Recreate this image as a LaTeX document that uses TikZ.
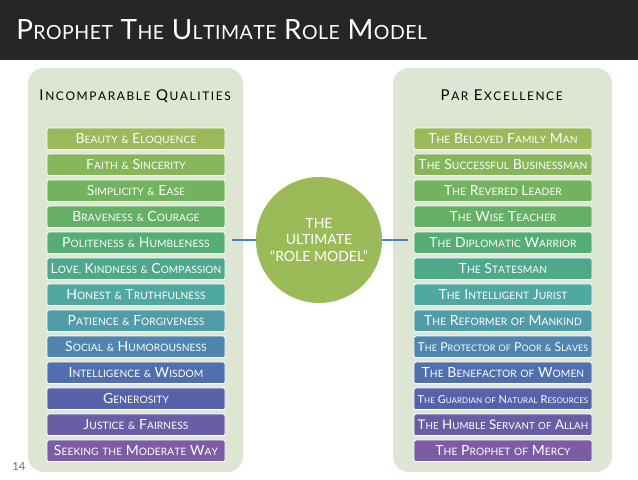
\documentclass[tikz,border=0pt]{standalone}
\usepackage{fontspec}
\setmainfont{Lato}
\usepackage{graphicx}
\usepackage{xcolor}
\usepackage{tikz}
\usetikzlibrary{positioning}

\definecolor{titlebar}{RGB}{38,38,38}
\definecolor{panelbg}{RGB}{221,230,211}
\definecolor{linkblue}{RGB}{79,129,189}
\definecolor{modelgreen}{RGB}{155,187,89}
\definecolor{pagegray}{RGB}{110,110,110}
\definecolor{c1}{RGB}{155,184,90}
\definecolor{c2}{RGB}{134,182,90}
\definecolor{c3}{RGB}{114,180,94}
\definecolor{c4}{RGB}{100,176,100}
\definecolor{c5}{RGB}{85,172,116}
\definecolor{c6}{RGB}{78,169,138}
\definecolor{c7}{RGB}{79,169,160}
\definecolor{c8}{RGB}{80,157,169}
\definecolor{c9}{RGB}{79,133,174}
\definecolor{c10}{RGB}{81,111,174}
\definecolor{c11}{RGB}{87,97,169}
\definecolor{c12}{RGB}{107,93,165}
\definecolor{c13}{RGB}{124,92,165}

% fake small caps
\newdimen\fsctrack
\newcommand\fscratio{0.73}
\ExplSyntaxOn
\cs_new_protected:Npn \fsc_word:n #1
  {
    \tl_map_inline:nn {#1}
      {
        \bool_lazy_and:nnTF
          { \int_compare_p:nNn { `##1 } > { 64 } }
          { \int_compare_p:nNn { `##1 } < { 91 } }
          { ##1 }
          { \scalebox{\fscratio}{\text_uppercase:n {##1}} }
        \kern\fsctrack
      }
  }
\NewDocumentCommand \fsc { m }
  {
    \seq_set_split:Nnn \l_tmpa_seq { ~ } {#1}
    \seq_map_indexed_inline:Nn \l_tmpa_seq
      { \int_compare:nNnT {##1} > {1} { ~ } \fsc_word:n {##2} }
  }
\ExplSyntaxOff

% shrink a label that is too wide for its bar
\newsavebox\lblbox
\newcommand\fitlbl[1]{\sbox\lblbox{#1}\ifdim\wd\lblbox>128pt\resizebox{128pt}{!}{\usebox\lblbox}\else\usebox\lblbox\fi}

\tikzset{
  panel/.style={rectangle, rounded corners=12pt, fill=panelbg, inner sep=0pt},
  heading/.style={anchor=base, inner sep=0pt, text=black, font={\fontsize{11.2}{13}\selectfont\fsctrack=1.2pt\def\fscratio{0.8}}},
  bar/.style={rectangle, rounded corners=1.5pt, draw=white, line width=0.6pt, outer sep=0pt, inner sep=0pt, minimum width=133.5pt, minimum height=16.2pt, text height=7.5pt, text depth=0pt, text=white, font={\fontsize{10.5}{12}\selectfont\fsctrack=0.05pt}},
  model/.style={circle, fill=modelgreen, minimum size=94.5pt, inner sep=0pt, align=center, text=white, font=\fontsize{10.5}{12.4}\selectfont},
  link/.style={draw=linkblue, line width=0.8pt},
}

\begin{document}
\begin{tikzpicture}[x=0.75pt, y=-0.75pt, node distance=3.3pt]
\useasboundingbox (0,0) rectangle (638,479);
\fill[white] (0,0) rectangle (638,479);
\fill[titlebar] (0,0) rectangle (638,60);
\node[anchor=base west, inner sep=0pt, text=white, font={\fontsize{20.9}{24}\selectfont\fsctrack=0.35pt\def\fscratio{0.7}}] (title) at (16,39) {\fsc{Prophet The Ultimate Role Model}};

\node[panel, minimum width=161.25pt, minimum height=303pt] (qualpanel) at (135.5,270) {};
\node[panel, minimum width=164.25pt, minimum height=303pt] (excpanel) at (502.5,270) {};
\node[heading] (qualhead) at (136,100.7) {\fsc{Incomparable Qualities}};
\node[heading] (exchead) at (502.5,100.7) {\fsc{Par Excellence}};

% left column
\node[bar, fill=c1] (beauty) at (136,138.8) {\fitlbl{\fsc{Beauty \& Eloquence}}};
\node[bar, fill=c2, below=of beauty] (faith) {\fitlbl{\fsc{Faith \& Sincerity}}};
\node[bar, fill=c3, below=of faith] (simplicity) {\fitlbl{\fsc{Simplicity \& Ease}}};
\node[bar, fill=c4, below=of simplicity] (bravery) {\fitlbl{\fsc{Braveness \& Courage}}};
\node[bar, fill=c5, below=of bravery] (politeness) {\fitlbl{\fsc{Politeness \& Humbleness}}};
\node[bar, fill=c6, below=of politeness] (love) {\fitlbl{\fsc{Love, Kindness \& Compassion}}};
\node[bar, fill=c7, below=of love] (honesty) {\fitlbl{\fsc{Honest \& Truthfulness}}};
\node[bar, fill=c8, below=of honesty] (patience) {\fitlbl{\fsc{Patience \& Forgiveness}}};
\node[bar, fill=c9, below=of patience] (social) {\fitlbl{\fsc{Social \& Humorousness}}};
\node[bar, fill=c10, below=of social] (wisdom) {\fitlbl{\fsc{Intelligence \& Wisdom}}};
\node[bar, fill=c11, below=of wisdom] (generosity) {\fitlbl{\fsc{Generosity}}};
\node[bar, fill=c12, below=of generosity] (justice) {\fitlbl{\fsc{Justice \& Fairness}}};
\node[bar, fill=c13, below=of justice] (moderate) {\fitlbl{\fsc{Seeking the Moderate Way}}};

% right column
\node[bar, fill=c1] (family) at (503,138.8) {\fitlbl{\fsc{The Beloved Family Man}}};
\node[bar, fill=c2, below=of family] (business) {\fitlbl{\fsc{The Successful Businessman}}};
\node[bar, fill=c3, below=of business] (leader) {\fitlbl{\fsc{The Revered Leader}}};
\node[bar, fill=c4, below=of leader] (teacher) {\fitlbl{\fsc{The Wise Teacher}}};
\node[bar, fill=c5, below=of teacher] (diplomat) {\fitlbl{\fsc{The Diplomatic Warrior}}};
\node[bar, fill=c6, below=of diplomat] (statesman) {\fitlbl{\fsc{The Statesman}}};
\node[bar, fill=c7, below=of statesman] (jurist) {\fitlbl{\fsc{The Intelligent Jurist}}};
\node[bar, fill=c8, below=of jurist] (reformer) {\fitlbl{\fsc{The Reformer of Mankind}}};
\node[bar, fill=c9, below=of reformer] (protector) {\fitlbl{\fsc{The Protector of Poor \& Slaves}}};
\node[bar, fill=c10, below=of protector] (benefactor) {\fitlbl{\fsc{The Benefactor of Women}}};
\node[bar, fill=c11, below=of benefactor] (guardian) {\fitlbl{\fsc{The Guardian of Natural Resources}}};
\node[bar, fill=c12, below=of guardian] (servant) {\fitlbl{\fsc{The Humble Servant of Allah}}};
\node[bar, fill=c13, below=of servant] (mercy) {\fitlbl{\fsc{The Prophet of Mercy}}};

% centre
\node[model] (rolemodel) at (319,240) {THE\\ULTIMATE\\“ROLE MODEL”};
\coordinate (qualend) at (232,240);
\coordinate (excend) at (408,240);
\draw[link] (qualend) -- (rolemodel);
\draw[link] (rolemodel) -- (excend);

\node[anchor=base west, inner sep=0pt, text=pagegray, font=\fontsize{8.4}{10}\selectfont] (pageno) at (12,470) {14};
\end{tikzpicture}
\end{document}
